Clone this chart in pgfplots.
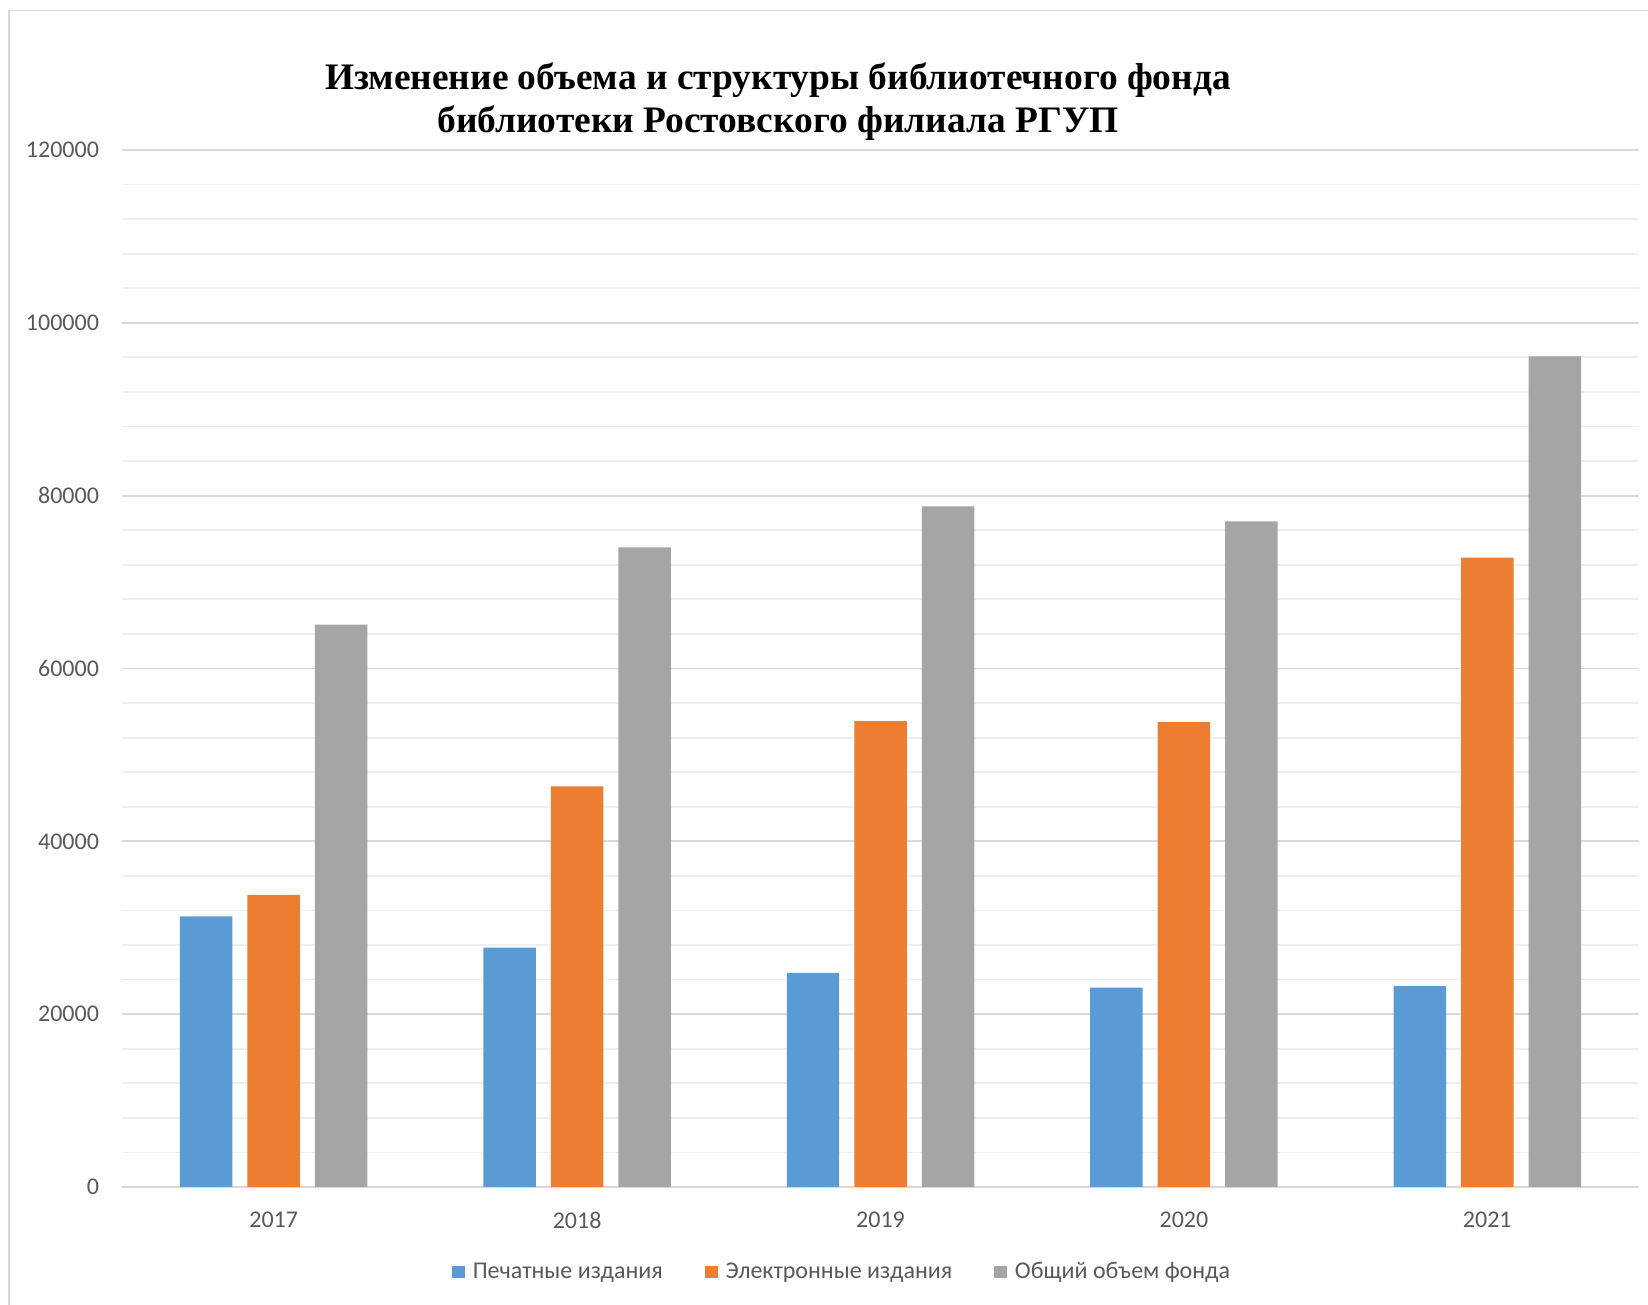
\documentclass[border=0pt]{standalone}
\usepackage{fontspec}
\setmainfont{Carlito}
\newfontfamily\titlefont{Liberation Serif}
\usepackage{pgfplots}
\pgfplotsset{compat=1.18}
\definecolor{cblue}{HTML}{5B9BD5}
\definecolor{corange}{HTML}{ED7D31}
\definecolor{cgray}{HTML}{A5A5A5}
\definecolor{ctext}{HTML}{595959}
\definecolor{gridmaj}{HTML}{D9D9D9}
\definecolor{gridmin}{HTML}{EFEFEF}
\begin{document}
\begin{tikzpicture}[x=1pt,y=1pt]
\useasboundingbox (0,0) rectangle (824,652.5);
\draw[gridmaj, line width=0.8pt] (4.5,-5) -- (4.5,647.2) -- (830,647.2);
\node[font=\titlefont\bfseries\fontsize{18.7}{21.5}\selectfont, align=center] at (389,601.5)
  {Изменение объема и структуры библиотечного фонда\\библиотеки Ростовского филиала РГУП};
\begin{axis}[
  at={(61pt,59pt)}, anchor=south west, scale only axis,
  width=758.5pt, height=518.5pt,
  xmin=-0.5, xmax=4.5, ymin=0, ymax=120000,
  axis line style={draw=none},
  scaled y ticks=false,
  xtick={0,1,2,3,4}, xticklabels={2017,2018,2019,2020,2021},
  ytick={0,20000,40000,60000,80000,100000,120000},
  yticklabels={0,20000,40000,60000,80000,100000,120000},
  minor ytick={4000,8000,12000,16000,24000,28000,32000,36000,44000,48000,52000,56000,64000,68000,72000,76000,84000,88000,92000,96000,104000,108000,112000,116000},
  ymajorgrids, yminorgrids,
  major grid style={gridmaj, line width=0.9pt},
  minor grid style={gridmin, line width=0.9pt},
  major tick length=0pt, minor tick length=0pt,
  tick style={draw=none},
  ticklabel style={font=\fontsize{12}{14}\selectfont, text=ctext},
  yticklabel style={xshift=-8pt},
  xticklabel style={yshift=-9pt},
  legend style={at={(0.4753,-0.082)}, anchor=center, draw=none, fill=none,
    font=\fontsize{12}{14}\selectfont, text=ctext,
    /tikz/every even column/.append style={column sep=19pt}},
  legend columns=3,
  legend image code/.code={\fill[#1] (0pt,-3.2pt) rectangle (6.4pt,3.2pt); \path (8.4pt,0pt);},
]
\addplot[ybar, bar width=0.173, bar shift=-0.2225, fill=cblue, draw=none]
  coordinates {(0,31330) (1,27710) (2,24780) (3,23080) (4,23240)};
\addlegendentry{Печатные издания}
\addplot[ybar, bar width=0.173, bar shift=0, fill=corange, draw=none]
  coordinates {(0,33790) (1,46360) (2,53910) (3,53800) (4,72830)};
\addlegendentry{Электронные издания}
\addplot[ybar, bar width=0.173, bar shift=0.2225, fill=cgray, draw=none]
  coordinates {(0,65090) (1,74020) (2,78760) (3,77030) (4,96110)};
\addlegendentry{Общий объем фонда}
\end{axis}
\end{tikzpicture}
\end{document}
